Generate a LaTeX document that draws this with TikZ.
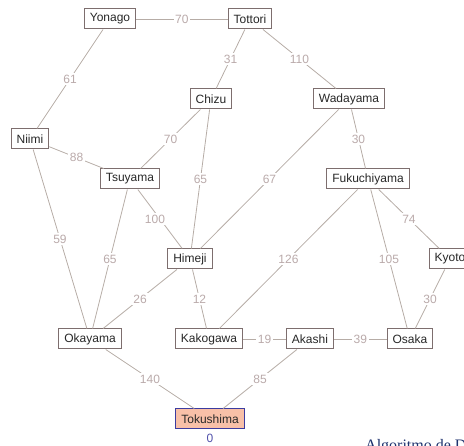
\documentclass[tikz,border=0pt]{standalone}
\usepackage{fontspec}
\setsansfont{Liberation Sans}
\newfontfamily\titlefont{Liberation Serif}
\usetikzlibrary{positioning}

\definecolor{roadcol}{RGB}{182,172,166}
\definecolor{distcol}{RGB}{186,170,170}
\definecolor{boxcol}{RGB}{125,110,110}
\definecolor{namecol}{RGB}{40,40,40}
\definecolor{startfill}{RGB}{248,192,168}
\definecolor{startline}{RGB}{60,60,160}
\definecolor{zerocol}{RGB}{80,80,170}
\definecolor{titlecol}{RGB}{30,50,110}

\begin{document}
\begin{tikzpicture}[x=1pt, y=-1pt,
    city/.style={draw=boxcol, line width=1pt, fill=white, text=namecol,
        font=\sffamily\fontsize{12}{14}\selectfont,
        minimum height=20pt, inner xsep=5.5pt, inner ysep=0pt},
    start/.style={city, draw=startline, fill=startfill},
    road/.style={draw=roadcol, line width=0.8pt},
    dist/.style={fill=white, text=distcol, inner sep=1.5pt,
        font=\sffamily\fontsize{12}{14}\selectfont}]
    \useasboundingbox (0,0) rectangle (464,446);
    \clip (0,0) rectangle (464,446);

    % cities
    \node[city] (yonago) at (110,19) {Yonago};
    \node[city] (tottori) at (250,19) {Tottori};
    \node[city] (chizu) at (211,99) {Chizu};
    \node[city] (wadayama) at (349,99) {Wadayama};
    \node[city] (niimi) at (30,139) {Niimi};
    \node[city] (tsuyama) at (130,179) {Tsuyama};
    \node[city] (fukuchiyama) at (368,179) {Fukuchiyama};
    \node[city] (himeji) at (190,259) {Himeji};
    \node[city] (kyoto) at (450,259) {Kyoto};
    \node[city] (okayama) at (90,339) {Okayama};
    \node[city] (kakogawa) at (209,339) {Kakogawa};
    \node[city] (akashi) at (310,339) {Akashi};
    \node[city] (osaka) at (410,339) {Osaka};
    \node[start] (tokushima) at (210,419) {Tokushima};
    \node[text=zerocol, font=\sffamily\fontsize{12}{14}\selectfont,
        below=3pt of tokushima, inner sep=1pt] (zero) {0};
    \node[text=titlecol, font=\titlefont\fontsize{16}{18}\selectfont,
        anchor=base west, inner sep=0pt] (title) at (365,451) {Algoritmo de Dijkstra};

    % roads
    \path[road] (yonago) -- node[dist] {70} (tottori);
    \path[road] (yonago) -- node[dist] {61} (niimi);
    \path[road] (tottori) -- node[dist] {31} (chizu);
    \path[road] (tottori) -- node[dist] {110} (wadayama);
    \path[road] (chizu) -- node[dist] {70} (tsuyama);
    \path[road] (chizu) -- node[dist] {65} (himeji);
    \path[road] (wadayama) -- node[dist] {30} (fukuchiyama);
    \path[road] (wadayama) -- node[dist] {67} (himeji);
    \path[road] (niimi) -- node[dist] {88} (tsuyama);
    \path[road] (niimi) -- node[dist] {59} (okayama);
    \path[road] (tsuyama) -- node[dist] {65} (okayama);
    \path[road] (tsuyama) -- node[dist, xshift=-5pt] {100} (himeji);
    \path[road] (himeji) -- node[dist] {26} (okayama);
    \path[road] (himeji) -- node[dist] {12} (kakogawa);
    \path[road] (fukuchiyama) -- node[dist] {126} (kakogawa);
    \path[road] (fukuchiyama) -- node[dist] {105} (osaka);
    \path[road] (fukuchiyama) -- node[dist] {74} (kyoto);
    \path[road] (kyoto) -- node[dist] {30} (osaka);
    \path[road] (kakogawa) -- node[dist] {19} (akashi);
    \path[road] (akashi) -- node[dist] {39} (osaka);
    \path[road] (okayama) -- node[dist] {140} (tokushima);
    \path[road] (akashi) -- node[dist] {85} (tokushima);
\end{tikzpicture}
\end{document}
